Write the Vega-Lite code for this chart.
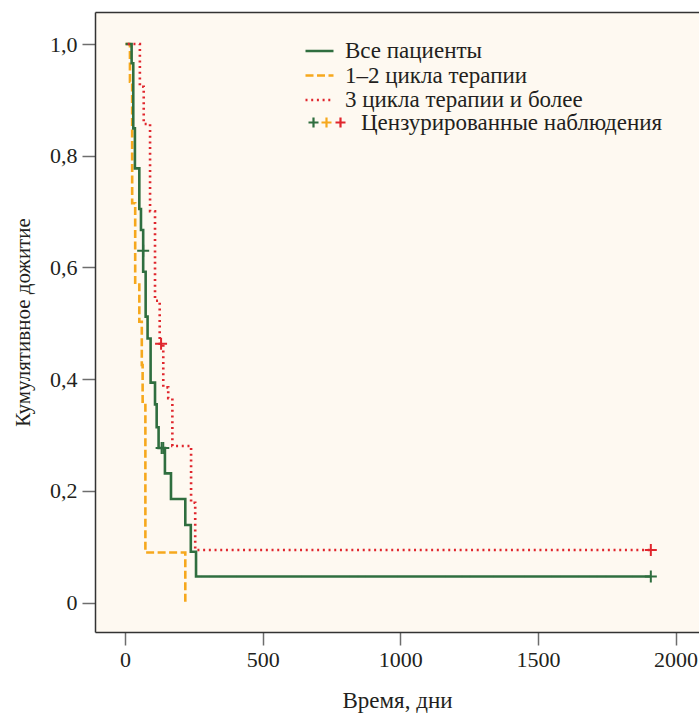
{
  "$schema": "https://vega.github.io/schema/vega-lite/v6.json",
  "width": 604,
  "height": 620,
  "autosize": {"type": "none"},
  "padding": {"left": 95, "top": 12, "right": 0, "bottom": 81},
  "background": "#ffffff",
  "config": {
    "view": {"stroke": null, "fill": "#fef9f1"},
    "font": "Liberation Serif",
    "axis": {
      "labelFont": "Liberation Serif", "titleFont": "Liberation Serif",
      "labelFontSize": 22, "titleFontSize": 21,
      "labelColor": "#231f20", "titleColor": "#231f20", "titleFontWeight": "normal",
      "domainColor": "#333333", "domainWidth": 1.5,
      "tickColor": "#6d6d6d", "tickWidth": 1.5, "tickSize": 13, "grid": false
    }
  },
  "datasets": {
    "km": [
      {"g": "1–2 цикла терапии", "t": "line", "d": 2, "s": 1.0},
      {"g": "1–2 цикла терапии", "t": "line", "d": 18, "s": 0.9325},
      {"g": "1–2 цикла терапии", "t": "line", "d": 26, "s": 0.715},
      {"g": "1–2 цикла терапии", "t": "line", "d": 37, "s": 0.573},
      {"g": "1–2 цикла терапии", "t": "line", "d": 52, "s": 0.503},
      {"g": "1–2 цикла терапии", "t": "line", "d": 61, "s": 0.4255},
      {"g": "1–2 цикла терапии", "t": "line", "d": 64, "s": 0.36},
      {"g": "1–2 цикла терапии", "t": "line", "d": 74, "s": 0.09},
      {"g": "1–2 цикла терапии", "t": "line", "d": 219, "s": 0.0},
      {"g": "Все пациенты", "t": "line", "d": 2, "s": 1.0},
      {"g": "Все пациенты", "t": "line", "d": 24, "s": 0.9655},
      {"g": "Все пациенты", "t": "line", "d": 30, "s": 0.849},
      {"g": "Все пациенты", "t": "line", "d": 36, "s": 0.7775},
      {"g": "Все пациенты", "t": "line", "d": 52, "s": 0.7047},
      {"g": "Все пациенты", "t": "line", "d": 58, "s": 0.667},
      {"g": "Все пациенты", "t": "line", "d": 66, "s": 0.5924},
      {"g": "Все пациенты", "t": "line", "d": 75, "s": 0.512},
      {"g": "Все пациенты", "t": "line", "d": 82, "s": 0.473},
      {"g": "Все пациенты", "t": "line", "d": 93, "s": 0.394},
      {"g": "Все пациенты", "t": "line", "d": 109, "s": 0.355},
      {"g": "Все пациенты", "t": "line", "d": 115, "s": 0.314},
      {"g": "Все пациенты", "t": "line", "d": 122, "s": 0.277},
      {"g": "Все пациенты", "t": "line", "d": 145, "s": 0.2316},
      {"g": "Все пациенты", "t": "line", "d": 167, "s": 0.1856},
      {"g": "Все пациенты", "t": "line", "d": 219, "s": 0.139},
      {"g": "Все пациенты", "t": "line", "d": 239, "s": 0.0913},
      {"g": "Все пациенты", "t": "line", "d": 258, "s": 0.047},
      {"g": "Все пациенты", "t": "line", "d": 1910, "s": 0.047},
      {"g": "3 цикла терапии и более", "t": "line", "d": 10, "s": 1.0},
      {"g": "3 цикла терапии и более", "t": "line", "d": 54, "s": 0.9236},
      {"g": "3 цикла терапии и более", "t": "line", "d": 68, "s": 0.8568},
      {"g": "3 цикла терапии и более", "t": "line", "d": 91, "s": 0.7006},
      {"g": "3 цикла терапии и более", "t": "line", "d": 109, "s": 0.5405},
      {"g": "3 цикла терапии и более", "t": "line", "d": 126, "s": 0.4636},
      {"g": "3 цикла терапии и более", "t": "line", "d": 139, "s": 0.3855},
      {"g": "3 цикла терапии и более", "t": "line", "d": 157, "s": 0.366},
      {"g": "3 цикла терапии и более", "t": "line", "d": 172, "s": 0.2805},
      {"g": "3 цикла терапии и более", "t": "line", "d": 240, "s": 0.179},
      {"g": "3 цикла терапии и более", "t": "line", "d": 255, "s": 0.0943},
      {"g": "3 цикла терапии и более", "t": "line", "d": 1910, "s": 0.0943},
      {"g": "Все пациенты", "t": "censor", "d": 66, "s": 0.63, "lab": "Цензурированные наблюдения"},
      {"g": "Все пациенты", "t": "censor", "d": 133, "s": 0.277, "lab": "Цензурированные наблюдения"},
      {"g": "Все пациенты", "t": "censor", "d": 139, "s": 0.277, "lab": "Цензурированные наблюдения"},
      {"g": "Все пациенты", "t": "censor", "d": 1910, "s": 0.047, "lab": "Цензурированные наблюдения"},
      {"g": "3 цикла терапии и более", "t": "censor", "d": 131, "s": 0.4636, "lab": "Цензурированные наблюдения"},
      {"g": "3 цикла терапии и более", "t": "censor", "d": 1910, "s": 0.0943, "lab": "Цензурированные наблюдения"}
    ]
  },
  "data": {"name": "km"},
  "layer": [
    {
      "transform": [{"filter": "datum.t == 'line'"}],
      "mark": {"type": "line", "interpolate": "step-after", "strokeWidth": 2.6},
      "encoding": {
        "x": {"field": "d", "type": "quantitative",
          "scale": {"domain": [-109, 2085], "nice": false, "zero": false},
          "axis": {"orient": "bottom", "values": [0, 500, 1000, 1500, 2000], "format": "d", "title": "Время, дни", "titleFontSize": 23, "labelPadding": 4, "titlePadding": 19}},
        "y": {"field": "s", "type": "quantitative",
          "scale": {"domain": [-0.0524, 1.0573], "nice": false, "zero": false},
          "axis": {"orient": "left", "values": [0, 0.2, 0.4, 0.6, 0.8, 1], "labelExpr": "datum.value == 0 ? '0' : replace(format(datum.value, '.1f'), '.', ',')", "title": "Кумулятивное дожитие", "labelPadding": 5, "titlePadding": 16}},
        "color": {"field": "g", "type": "nominal",
          "scale": {"domain": ["Все пациенты", "1–2 цикла терапии", "3 цикла терапии и более"], "range": ["#2f6e3f", "#f6a81d", "#e0262d"]},
          "legend": {"title": null, "orient": "none", "legendX": 213, "legendY": 27.5, "symbolType": "M-2,0H2", "symbolSize": 196, "symbolStrokeWidth": 2.6, "labelOffset": 14, "rowPadding": 0.5, "padding": 0, "labelFont": "Liberation Serif", "labelFontSize": 23, "labelColor": "#231f20", "labelLimit": 0}},
        "strokeDash": {"field": "g", "type": "nominal",
          "scale": {"domain": ["Все пациенты", "1–2 цикла терапии", "3 цикла терапии и более"], "range": [[1, 0], [8, 3.5], [2, 3.7]]},
          "legend": {"title": null, "orient": "none", "legendX": 213, "legendY": 27.5, "symbolType": "M-2,0H2", "symbolSize": 196, "symbolStrokeWidth": 2.6, "labelOffset": 14, "rowPadding": 0.5, "padding": 0, "labelFont": "Liberation Serif", "labelFontSize": 23, "labelColor": "#231f20", "labelLimit": 0}}
      }
    },
    {
      "transform": [{"filter": "datum.t == 'censor' && datum.g == 'Все пациенты'"}],
      "mark": {"type": "point", "shape": "M-1,0H1M0,-1V1", "filled": false, "size": 144, "strokeWidth": 2, "opacity": 1},
      "encoding": {
        "x": {"field": "d", "type": "quantitative", "axis": {"orient": "top", "labels": false, "ticks": false, "title": null, "domain": true}},
        "y": {"field": "s", "type": "quantitative"},
        "stroke": {"field": "lab", "type": "nominal",
          "scale": {"domain": ["Цензурированные наблюдения"], "range": ["#2f6e3f"]},
          "legend": {"title": null, "orient": "none", "legendX": 210, "legendY": 99, "symbolType": "M-1.6,0H0.4M-0.6,-1V1", "symbolSize": 100, "symbolStrokeWidth": 2.2, "symbolFillColor": "transparent", "labelOffset": 33, "padding": 0, "labelFont": "Liberation Serif", "labelFontSize": 23, "labelColor": "#231f20", "labelLimit": 0}}
      }
    },
    {
      "transform": [{"filter": "datum.t == 'censor' && datum.g == '1–2 цикла терапии'"}],
      "mark": {"type": "point", "shape": "M-1,0H1M0,-1V1", "filled": false, "size": 144, "strokeWidth": 2, "opacity": 1},
      "encoding": {
        "x": {"field": "d", "type": "quantitative", "axis": null},
        "y": {"field": "s", "type": "quantitative"},
        "stroke": {"field": "lab", "type": "nominal",
          "scale": {"domain": ["Цензурированные наблюдения"], "range": ["#f6a81d"]},
          "legend": {"title": null, "orient": "none", "legendX": 210, "legendY": 99, "symbolType": "M1,0H3M2,-1V1", "symbolSize": 100, "symbolStrokeWidth": 2.2, "symbolFillColor": "transparent", "labelExpr": "''", "padding": 0, "labelFontSize": 23}}
      }
    },
    {
      "transform": [{"filter": "datum.t == 'censor' && datum.g == '3 цикла терапии и более'"}],
      "mark": {"type": "point", "shape": "M-1,0H1M0,-1V1", "filled": false, "size": 144, "strokeWidth": 2, "opacity": 1},
      "encoding": {
        "x": {"field": "d", "type": "quantitative", "axis": null},
        "y": {"field": "s", "type": "quantitative"},
        "stroke": {"field": "lab", "type": "nominal",
          "scale": {"domain": ["Цензурированные наблюдения"], "range": ["#e0262d"]},
          "legend": {"title": null, "orient": "none", "legendX": 210, "legendY": 99, "symbolType": "M3.8,0H5.8M4.8,-1V1", "symbolSize": 100, "symbolStrokeWidth": 2.2, "symbolFillColor": "transparent", "labelExpr": "''", "padding": 0, "labelFontSize": 23}}
      }
    }
  ],
  "resolve": {
    "scale": {"stroke": "independent"},
    "legend": {"stroke": "independent"},
    "axis": {"x": "independent"}
  }
}
